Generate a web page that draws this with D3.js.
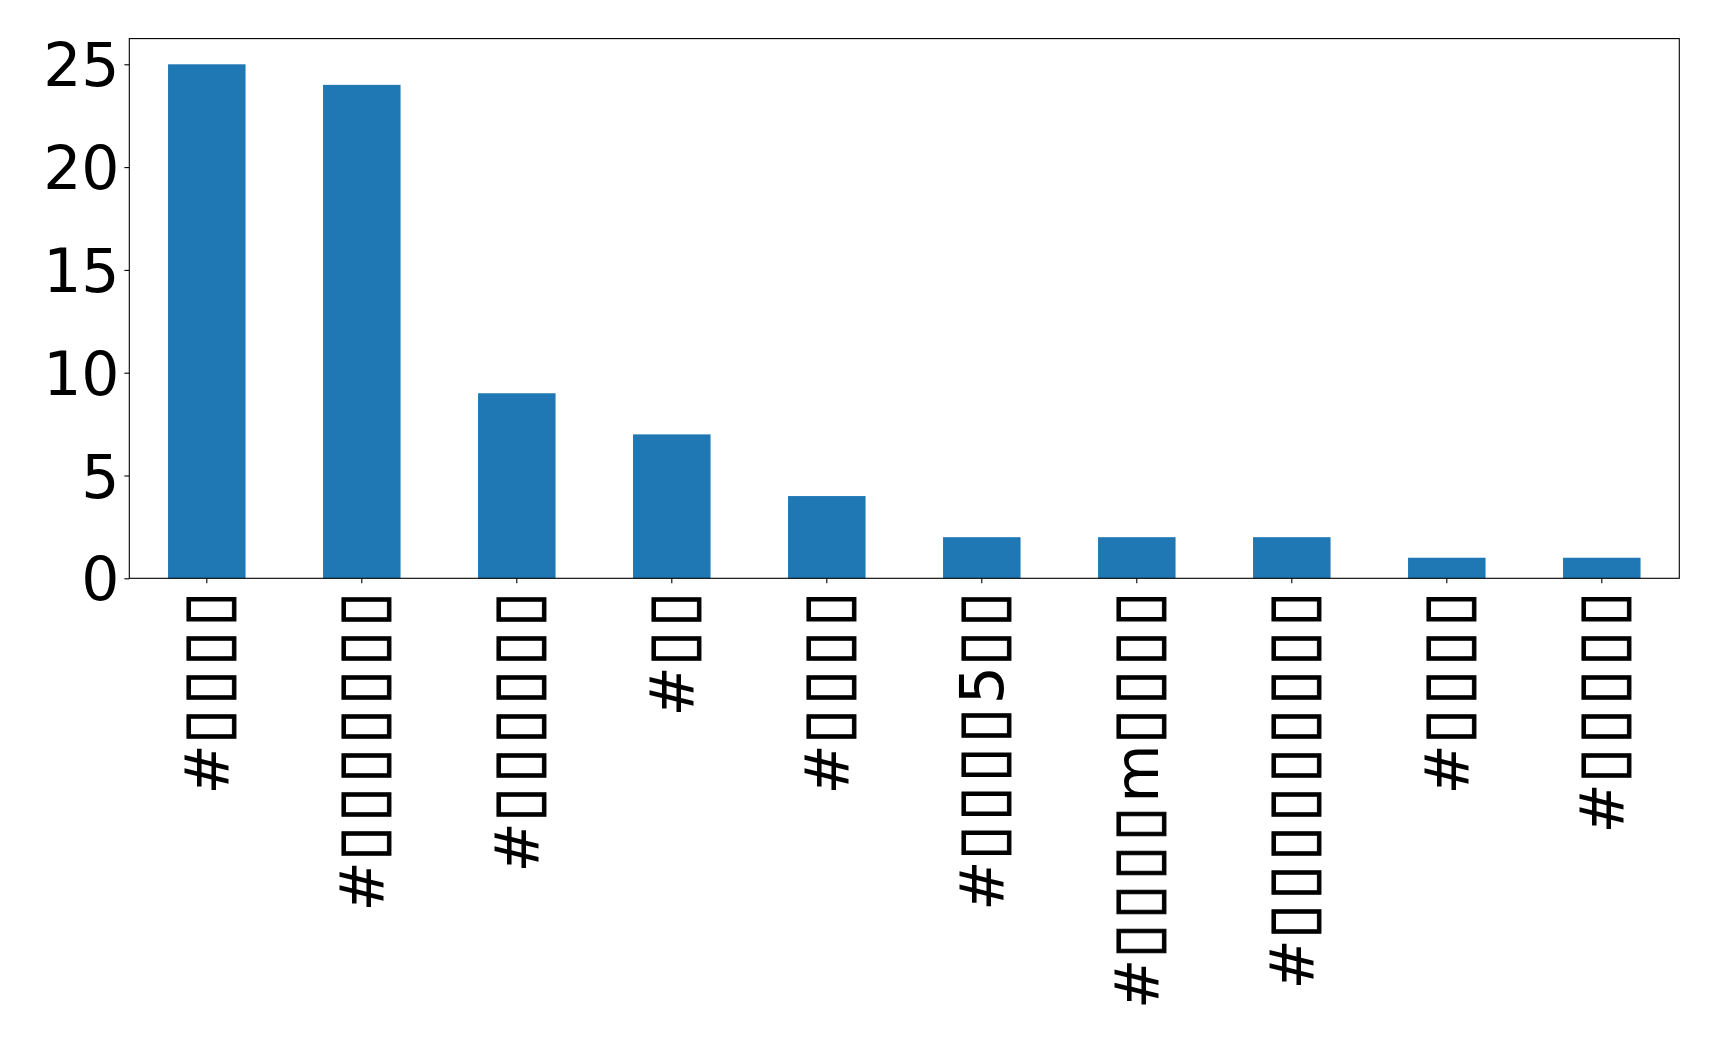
<!DOCTYPE html>
<html>
<head>
<meta charset="utf-8">
<script src="https://cdn.jsdelivr.net/npm/d3@7"></script>
<style>
  html, body { margin: 0; padding: 0; background: #fff; }
  svg { display: block; }
  text { font-family: "DejaVu Sans", sans-serif; fill: #000; }
</style>
</head>
<body>
<svg id="chart" width="1719" height="1041"></svg>
<script>
// ---- data (CJK glyphs rendered as missing-glyph boxes there) ----
const categories = [
  "#\u25AF\u25AF\u25AF\u25AF",
  "#\u25AF\u25AF\u25AF\u25AF\u25AF\u25AF\u25AF",
  "#\u25AF\u25AF\u25AF\u25AF\u25AF\u25AF",
  "#\u25AF\u25AF",
  "#\u25AF\u25AF\u25AF\u25AF",
  "#\u25AF\u25AF\u25AF\u25AF5\u25AF\u25AF",
  "#\u25AF\u25AF\u25AF\u25AFm\u25AF\u25AF\u25AF\u25AF",
  "#\u25AF\u25AF\u25AF\u25AF\u25AF\u25AF\u25AF\u25AF\u25AF",
  "#\u25AF\u25AF\u25AF\u25AF",
  "#\u25AF\u25AF\u25AF\u25AF\u25AF"
];
const counts = [25, 24, 9, 7, 4, 2, 2, 2, 1, 1];
const yTicks = [0, 5, 10, 15, 20, 25];

// ---- layout ----
const margin = { left: 129.3, top: 38.6, right: 1719 - 1679.3, bottom: 1041 - 578.3 };
const W = 1719 - margin.left - margin.right;
const H = 1041 - margin.top - margin.bottom;
const fontPx = 60;
const tickLen = 4.9, tickPad = 4.9;

const svg = d3.select("#chart");
const g = svg.append("g").attr("transform", `translate(${margin.left},${margin.top})`);

const x = d3.scaleBand().domain(d3.range(categories.length)).range([0, W]).paddingInner(0.5).paddingOuter(0.25);
const y = d3.scaleLinear().domain([0, d3.max(counts) * 1.05]).range([H, 0]);

// bars
g.selectAll("rect.bar").data(counts).join("rect")
  .attr("class", "bar")
  .attr("x", (d, i) => x(i))
  .attr("width", x.bandwidth())
  .attr("y", d => y(d))
  .attr("height", d => y(0) - y(d))
  .attr("fill", "#1f77b4");

// y axis
const yAxis = g.append("g")
  .call(d3.axisLeft(y).tickValues(yTicks).tickSize(tickLen).tickPadding(tickPad).tickFormat(d3.format("d")));
yAxis.select(".domain").remove();
yAxis.selectAll(".tick line").attr("stroke", "#000").attr("stroke-width", 1.1);
yAxis.selectAll(".tick text")
  .attr("font-size", fontPx).attr("font-family", "DejaVu Sans")
  .attr("fill", "#000").attr("dy", "0.36em");

// x axis
const xAxis = g.append("g").attr("transform", `translate(0,${H})`)
  .call(d3.axisBottom(x).tickSize(tickLen).tickPadding(tickPad).tickFormat(i => categories[i]));
xAxis.select(".domain").remove();
xAxis.selectAll(".tick line").attr("stroke", "#000").attr("stroke-width", 1.1);
xAxis.selectAll(".tick text")
  .attr("font-size", fontPx).attr("font-family", "DejaVu Sans").attr("fill", "#000")
  .attr("text-anchor", "end")
  .attr("x", 0).attr("y", 0).attr("dy", "0.35em")
  .attr("transform", `translate(0,${tickLen + tickPad}) rotate(-90)`)
  .each(function (i) {
    const t = d3.select(this);
    const label = categories[i];
    t.text(null);
    // split into runs of box glyphs / other glyphs
    const runs = label.match(/(\u25AF+|[^\u25AF]+)/g);
    runs.forEach(r => {
      const ts = t.append("tspan").text(r);
      if (r[0] === "\u25AF") {
        ts.attr("font-size", 64).attr("letter-spacing", "3.8px")
          .attr("stroke", "#000").attr("stroke-width", 1.0);
      }
    });
  });

// frame (spines)
g.append("rect").attr("x", 0).attr("y", 0).attr("width", W).attr("height", H)
  .attr("fill", "none").attr("stroke", "#000").attr("stroke-width", 1.1);
</script>
</body>
</html>
